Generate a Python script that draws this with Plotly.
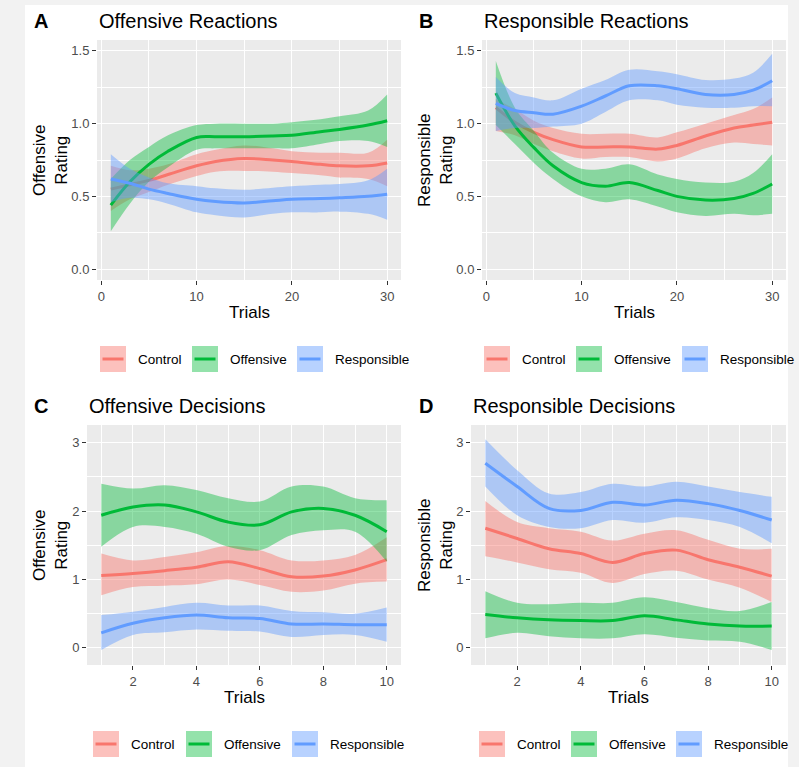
import plotly.graph_objects as go

W, H = 799, 767

# ---------------- data ----------------
groups = ["Control", "Offensive", "Responsible"]
colors = {"Control": "#F8766D", "Offensive": "#00BA38", "Responsible": "#619CFF"}
fills = {"Control": "rgba(248,118,109,0.45)", "Offensive": "rgba(0,186,56,0.42)",
         "Responsible": "rgba(97,156,255,0.45)"}

# Panel A: Offensive Reactions
A_x = [1, 3, 5, 7, 10, 12, 15, 18, 20, 23, 25, 28, 30]
A_ctrl_mean = [0.55, 0.58, 0.61, 0.65, 0.71, 0.74, 0.76, 0.75, 0.74, 0.72, 0.71, 0.71, 0.73]
A_ctrl_lo = [0.40, 0.48, 0.53, 0.58, 0.64, 0.67, 0.675, 0.67, 0.66, 0.645, 0.63, 0.62, 0.57]
A_ctrl_hi = [0.71, 0.68, 0.69, 0.72, 0.79, 0.82, 0.85, 0.83, 0.81, 0.80, 0.80, 0.80, 0.89]
A_off_mean = [0.44, 0.60, 0.72, 0.81, 0.905, 0.91, 0.91, 0.915, 0.92, 0.945, 0.96, 0.99, 1.02]
A_off_lo = [0.26, 0.45, 0.60, 0.70, 0.82, 0.83, 0.83, 0.83, 0.83, 0.86, 0.88, 0.88, 0.84]
A_off_hi = [0.62, 0.75, 0.84, 0.92, 0.99, 1.0, 1.0, 1.0, 1.01, 1.03, 1.05, 1.09, 1.20]
A_resp_mean = [0.62, 0.59, 0.55, 0.52, 0.48, 0.465, 0.455, 0.47, 0.48, 0.485, 0.49, 0.50, 0.515]
A_resp_lo = [0.46, 0.49, 0.48, 0.45, 0.39, 0.37, 0.355, 0.38, 0.39, 0.39, 0.395, 0.38, 0.34]
A_resp_hi = [0.79, 0.69, 0.63, 0.59, 0.57, 0.555, 0.545, 0.56, 0.57, 0.58, 0.585, 0.61, 0.69]

# Panel B: Responsible Reactions
B_x = [1, 3, 5, 7, 10, 12.5, 15, 18, 20, 23, 26, 28, 30]
B_ctrl_mean = [1.11, 1.01, 0.94, 0.89, 0.84, 0.84, 0.84, 0.825, 0.85, 0.915, 0.97, 0.99, 1.01]
B_ctrl_lo = [0.95, 0.92, 0.86, 0.81, 0.76, 0.77, 0.77, 0.74, 0.76, 0.83, 0.87, 0.86, 0.85]
B_ctrl_hi = [1.17, 1.10, 1.02, 0.97, 0.93, 0.93, 0.93, 0.905, 0.94, 1.00, 1.06, 1.10, 1.18]
B_off_mean = [1.21, 0.985, 0.835, 0.71, 0.595, 0.57, 0.595, 0.54, 0.50, 0.475, 0.485, 0.52, 0.585]
B_off_lo = [0.99, 0.86, 0.73, 0.62, 0.50, 0.46, 0.48, 0.43, 0.39, 0.365, 0.38, 0.37, 0.38]
B_off_hi = [1.43, 1.11, 0.95, 0.80, 0.69, 0.69, 0.72, 0.65, 0.62, 0.595, 0.60, 0.66, 0.79]
B_resp_mean = [1.14, 1.09, 1.075, 1.065, 1.12, 1.19, 1.26, 1.26, 1.24, 1.20, 1.20, 1.23, 1.295]
B_resp_lo = [0.95, 0.97, 0.97, 0.98, 1.0, 1.08, 1.16, 1.16, 1.13, 1.11, 1.11, 1.12, 1.12]
B_resp_hi = [1.32, 1.21, 1.18, 1.16, 1.24, 1.30, 1.37, 1.36, 1.34, 1.30, 1.31, 1.35, 1.48]

# Panel C: Offensive Decisions
C_x = [1, 2, 3, 4, 5, 6, 7, 8, 9, 10]
C_ctrl_mean = [1.06, 1.09, 1.13, 1.18, 1.26, 1.16, 1.04, 1.05, 1.14, 1.29]
C_ctrl_lo = [0.77, 0.89, 0.91, 0.93, 1.0, 0.92, 0.82, 0.84, 0.94, 0.97]
C_ctrl_hi = [1.38, 1.28, 1.33, 1.40, 1.49, 1.43, 1.28, 1.28, 1.36, 1.62]
C_off_mean = [1.94, 2.06, 2.09, 1.99, 1.84, 1.80, 1.99, 2.04, 1.94, 1.70]
C_off_lo = [1.48, 1.77, 1.77, 1.67, 1.48, 1.43, 1.65, 1.72, 1.70, 1.26]
C_off_hi = [2.40, 2.33, 2.38, 2.31, 2.19, 2.14, 2.36, 2.36, 2.19, 2.16]
C_resp_mean = [0.22, 0.36, 0.44, 0.48, 0.44, 0.43, 0.35, 0.35, 0.34, 0.34]
C_resp_lo = [-0.03, 0.19, 0.23, 0.27, 0.25, 0.24, 0.16, 0.19, 0.19, 0.09]
C_resp_hi = [0.48, 0.53, 0.60, 0.66, 0.62, 0.62, 0.54, 0.52, 0.50, 0.59]

# Panel D: Responsible Decisions
D_x = [1, 2, 3, 4, 5, 6, 7, 8, 9, 10]
D_ctrl_mean = [1.75, 1.60, 1.45, 1.38, 1.25, 1.38, 1.43, 1.29, 1.18, 1.05]
D_ctrl_lo = [1.34, 1.25, 1.15, 1.10, 0.95, 1.08, 1.13, 1.00, 0.88, 0.67]
D_ctrl_hi = [2.15, 1.84, 1.75, 1.70, 1.57, 1.67, 1.72, 1.58, 1.45, 1.45]
D_off_mean = [0.49, 0.44, 0.41, 0.40, 0.40, 0.47, 0.41, 0.35, 0.32, 0.32]
D_off_lo = [0.14, 0.22, 0.17, 0.14, 0.14, 0.20, 0.15, 0.11, 0.09, -0.03]
D_off_hi = [0.83, 0.66, 0.64, 0.66, 0.66, 0.74, 0.67, 0.58, 0.54, 0.67]
D_resp_mean = [2.70, 2.36, 2.04, 2.01, 2.13, 2.09, 2.16, 2.11, 2.01, 1.87]
D_resp_lo = [2.36, 1.94, 1.77, 1.75, 1.87, 1.83, 1.91, 1.87, 1.77, 1.53]
D_resp_hi = [3.05, 2.60, 2.26, 2.28, 2.40, 2.36, 2.43, 2.36, 2.28, 2.21]

panel_letters = ["A", "B", "C", "D"]
panel_titles = ["Offensive Reactions", "Responsible Reactions",
                "Offensive Decisions", "Responsible Decisions"]
y_titles = ["Offensive<br>Rating", "Responsible<br>Rating",
            "Offensive<br>Rating", "Responsible<br>Rating"]
x_title = "Trials"

panels = [
    (A_x, {"Control": (A_ctrl_mean, A_ctrl_lo, A_ctrl_hi),
           "Offensive": (A_off_mean, A_off_lo, A_off_hi),
           "Responsible": (A_resp_mean, A_resp_lo, A_resp_hi)}),
    (B_x, {"Control": (B_ctrl_mean, B_ctrl_lo, B_ctrl_hi),
           "Offensive": (B_off_mean, B_off_lo, B_off_hi),
           "Responsible": (B_resp_mean, B_resp_lo, B_resp_hi)}),
    (C_x, {"Control": (C_ctrl_mean, C_ctrl_lo, C_ctrl_hi),
           "Offensive": (C_off_mean, C_off_lo, C_off_hi),
           "Responsible": (C_resp_mean, C_resp_lo, C_resp_hi)}),
    (D_x, {"Control": (D_ctrl_mean, D_ctrl_lo, D_ctrl_hi),
           "Offensive": (D_off_mean, D_off_lo, D_off_hi),
           "Responsible": (D_resp_mean, D_resp_lo, D_resp_hi)}),
]

# ---------------- layout geometry (pixels) ----------------
FONT = "Liberation Sans, Arial, sans-serif"
# plot areas: (left, right, top, bottom)
areas = [(97, 401, 40, 280), (482, 786, 40, 280),
         (87, 401, 425, 665), (471, 786, 425, 665)]
xranges = [[-0.45, 31.45], [-0.45, 31.45], [0.55, 10.45], [0.55, 10.45]]
yranges = [[-0.075, 1.575], [-0.075, 1.575], [-0.25, 3.26], [-0.25, 3.26]]


def px(x):
    return x / W


def py(y):
    return 1 - y / H


fig = go.Figure()

for i, (xs, series) in enumerate(panels):
    ax = "" if i == 0 else str(i + 1)
    for g in groups:
        mean, lo, hi = series[g]
        fig.add_trace(go.Scatter(x=xs, y=lo, mode="lines", line=dict(width=0, shape="spline", smoothing=1.0),
                                 showlegend=False, hoverinfo="skip",
                                 xaxis="x" + ax, yaxis="y" + ax))
        fig.add_trace(go.Scatter(x=xs, y=hi, mode="lines", line=dict(width=0, shape="spline", smoothing=1.0),
                                 fill="tonexty", fillcolor=fills[g], showlegend=False, hoverinfo="skip",
                                 xaxis="x" + ax, yaxis="y" + ax))
        fig.add_trace(go.Scatter(x=xs, y=mean, mode="lines", name=g,
                                 line=dict(color=colors[g], width=3, shape="spline", smoothing=1.0),
                                 showlegend=False, xaxis="x" + ax, yaxis="y" + ax))

layout = dict(
    width=W, height=H, margin=dict(l=0, r=0, t=0, b=0),
    paper_bgcolor="white", plot_bgcolor="#EBEBEB",
    font=dict(family=FONT, color="#4D4D4D"),
    showlegend=False,
)

for i in range(4):
    l, r, t, b = areas[i]
    key = "" if i == 0 else str(i + 1)
    anchor_x = "y" + key
    anchor_y = "x" + key
    if i < 2:
        xt = dict(tickmode="linear", tick0=0, dtick=10, minor=dict(dtick=5, tick0=0, showgrid=True,
                  gridcolor="white", gridwidth=0.6))
        yt = dict(tickmode="linear", tick0=0, dtick=0.5, tickformat=".1f",
                  minor=dict(dtick=0.25, tick0=0, showgrid=True, gridcolor="white", gridwidth=0.6))
    else:
        xt = dict(tickmode="linear", tick0=0, dtick=2, minor=dict(dtick=1, tick0=0, showgrid=True,
                  gridcolor="white", gridwidth=0.6))
        yt = dict(tickmode="linear", tick0=0, dtick=1,
                  minor=dict(dtick=0.5, tick0=0, showgrid=True, gridcolor="white", gridwidth=0.6))
    common = dict(showgrid=True, gridcolor="white", gridwidth=1.2, zeroline=False, showline=False,
                  ticks="outside", ticklen=4, tickwidth=1, tickcolor="#333333",
                  tickfont=dict(family=FONT, size=13, color="#4D4D4D"), fixedrange=True)
    layout["xaxis" + key] = dict(domain=[px(l), px(r)], range=xranges[i], anchor=anchor_x, **common, **xt)
    layout["yaxis" + key] = dict(domain=[py(b), py(t)], range=yranges[i], anchor=anchor_y, **common, **yt)

fig.update_layout(**layout)

annotations = []
shapes = []

# outer grey frame
for (x0, x1, y0, y1) in [(0, 25, 0, H), (0, W, 0, 5), (788, W, 0, H)]:
    shapes.append(dict(type="rect", xref="paper", yref="paper", x0=px(x0), x1=px(x1),
                       y0=py(y1), y1=py(y0), fillcolor="#F2F2F2", line=dict(width=0), layer="above"))

letter_x = [32, 417, 32, 417]
title_y = [21, 21, 406, 406]
for i in range(4):
    l, r, t, b = areas[i]
    annotations.append(dict(text="<b>%s</b>" % panel_letters[i], x=px(letter_x[i]), y=py(title_y[i]),
                            xref="paper", yref="paper", xanchor="left", yanchor="middle", showarrow=False,
                            font=dict(family=FONT, size=20, color="black")))
    annotations.append(dict(text=panel_titles[i], x=px(l), y=py(title_y[i]),
                            xref="paper", yref="paper", xanchor="left", yanchor="middle", showarrow=False,
                            font=dict(family=FONT, size=20, color="black")))
    # axis titles
    annotations.append(dict(text=x_title, x=px((l + r) / 2), y=py(b + 32),
                            xref="paper", yref="paper", xanchor="center", yanchor="middle", showarrow=False,
                            font=dict(family=FONT, size=17, color="black")))
    ytx = 50 if i % 2 == 0 else 435
    annotations.append(dict(text=y_titles[i], x=px(ytx), y=py((t + b) / 2), textangle=-90,
                            xref="paper", yref="paper", xanchor="center", yanchor="middle", showarrow=False,
                            font=dict(family=FONT, size=17, color="black")))

# legends (one under each panel)
legend_keys = [(100, 192, 297), (484, 576, 682), (93, 186, 292), (479, 571, 676)]
legend_y = [359, 359, 744, 744]
KEY = 26
for i in range(4):
    cy = legend_y[i]
    for g, kx in zip(groups, legend_keys[i]):
        shapes.append(dict(type="rect", xref="paper", yref="paper", x0=px(kx), x1=px(kx + KEY),
                           y0=py(cy + KEY / 2), y1=py(cy - KEY / 2), fillcolor=fills[g],
                           line=dict(width=0)))
        shapes.append(dict(type="line", xref="paper", yref="paper", x0=px(kx + 2.5), x1=px(kx + KEY - 2.5),
                           y0=py(cy), y1=py(cy), line=dict(color=colors[g], width=3)))
        annotations.append(dict(text=g, x=px(kx + KEY + 10), y=py(cy), xref="paper", yref="paper",
                                xanchor="left", yanchor="middle", showarrow=False,
                                font=dict(family=FONT, size=13.5, color="black")))

fig.update_layout(annotations=annotations, shapes=shapes)

fig.write_html("out.html", config={"displayModeBar": False},
               post_script="document.body.style.margin='0';document.body.style.overflow='hidden';")
